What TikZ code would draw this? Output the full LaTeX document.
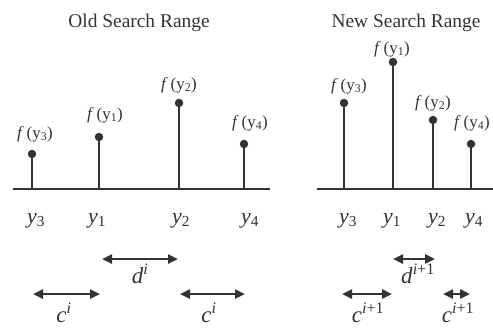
\documentclass[tikz,border=0pt]{standalone}
\usepackage{fontspec}
\setmainfont{Liberation Serif}
\usetikzlibrary{arrows.meta}
\definecolor{ink}{HTML}{333333}
\newcommand\fyl[1]{\textit{f}\,(y\textsubscript{#1})}
\newcommand\yl[1]{\textit{y}\textsubscript{#1}}
\tikzset{
  title/.style={font=\fontsize{19.5}{19.5}\selectfont, inner sep=0pt, anchor=base, text=ink},
  flab/.style={font=\fontsize{17}{17}\selectfont, inner sep=0pt, text=ink},
  ylab/.style={font=\fontsize{22}{22}\selectfont, inner sep=0pt, anchor=base, text=ink},
  clab/.style={font=\fontsize{23}{23}\selectfont, inner sep=0pt, anchor=base, text=ink},
  axisline/.style={draw=ink, line width=2.5pt},
  stem/.style={draw=ink, line width=2.8pt},
  dot/.style={circle, fill=ink, minimum size=8.5bp, inner sep=0pt},
  dim/.style={draw=ink, line width=2.4pt, {Triangle[length=10bp,width=9bp]}-{Triangle[length=10bp,width=9bp]}},
}
\begin{document}
\begin{tikzpicture}[x=1bp,y=-1bp]
\useasboundingbox (0,0) rectangle (493,327);
% titles
\node[title] (t1) at (139,27) {Old Search Range};
\node[title] (t2) at (406,27) {New Search Range};
% axes
\coordinate (a1l) at (13,189); \coordinate (a1r) at (270,189);
\coordinate (a2l) at (317,189); \coordinate (a2r) at (493,189);
\draw[axisline] (a1l) -- (a1r);
\draw[axisline] (a2l) -- (a2r);
% stems
\foreach \n/\x/\y in {L3/32/154, L1/99/137, L2/179/103, L4/244/144, R3/344/103, R1/393/62, R2/433/120, R4/471/144}{
  \coordinate (b\n) at (\x,189);
  \node[dot] (d\n) at (\x,\y) {};
  \draw[stem] (b\n) -- (d\n.center);
}
% f labels
\node[flab] (fL3) at (35,134) {\fyl{3}};
\node[flab] (fL1) at (105,115) {\fyl{1}};
\node[flab] (fL2) at (179,85) {\fyl{2}};
\node[flab] (fL4) at (250,123) {\fyl{4}};
\node[flab] (fR3) at (349,86) {\fyl{3}};
\node[flab] (fR1) at (392,49) {\fyl{1}};
\node[flab] (fR2) at (433,103) {\fyl{2}};
\node[flab] (fR4) at (472,123) {\fyl{4}};
% y labels
\node[ylab] (yL3) at (36,223) {\yl{3}};
\node[ylab] (yL1) at (97,223) {\yl{1}};
\node[ylab] (yL2) at (181,223) {\yl{2}};
\node[ylab] (yL4) at (250,223) {\yl{4}};
\node[ylab] (yR3) at (348,223) {\yl{3}};
\node[ylab] (yR1) at (392,223) {\yl{1}};
\node[ylab] (yR2) at (437,223) {\yl{2}};
\node[ylab] (yR4) at (474,223) {\yl{4}};
% dimension arrows
\coordinate (dLa) at (102,259); \coordinate (dLb) at (178,259);
\coordinate (cL1a) at (33,294); \coordinate (cL1b) at (100,294);
\coordinate (cL2a) at (180,294); \coordinate (cL2b) at (245,294);
\coordinate (dRa) at (393,259); \coordinate (dRb) at (435,259);
\coordinate (cR1a) at (342,294); \coordinate (cR1b) at (392,294);
\coordinate (cR2a) at (443,294); \coordinate (cR2b) at (470,294);
\draw[dim] (dLa) -- (dLb);
\draw[dim] (cL1a) -- (cL1b);
\draw[dim] (cL2a) -- (cL2b);
\draw[dim] (dRa) -- (dRb);
\draw[dim] (cR1a) -- (cR1b);
\draw[dim] (cR2a) -- (cR2b);
% arrow labels
\node[clab] (ldL) at (140,283) {\textit{d}\textsuperscript{\textit{i}}};
\node[clab] (lcL1) at (64,322) {\textit{c}\textsuperscript{\textit{i}}};
\node[clab] (lcL2) at (209,322) {\textit{c}\textsuperscript{\textit{i}}};
\node[clab] (ldR) at (418,283) {\textit{d}\textsuperscript{\textit{i}+1}};
\node[clab] (lcR1) at (368,322) {\textit{c}\textsuperscript{\textit{i}+1}};
\node[clab] (lcR2) at (458,322) {\textit{c}\textsuperscript{\textit{i}+1}};
\end{tikzpicture}
\end{document}
